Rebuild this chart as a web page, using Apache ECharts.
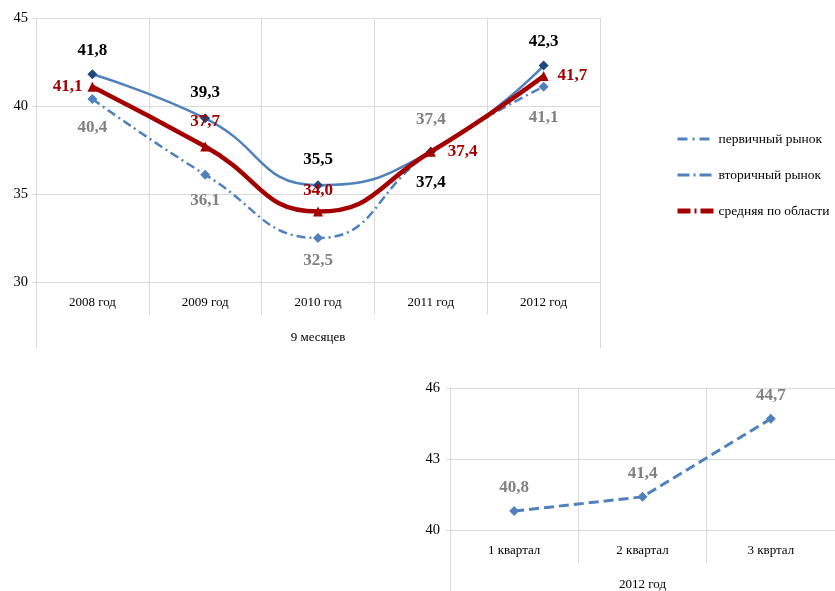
<!DOCTYPE html>
<html><head><meta charset="utf-8">
<script src="https://cdn.jsdelivr.net/npm/echarts@6/dist/echarts.min.js"></script>
<style>html,body{margin:0;padding:0;background:#fff}#c{width:835px;height:591px}</style>
</head><body><div id="c"></div>
<script>
const years = ['2008 год','2009 год','2010 год','2011 год','2012 год'];
const periodLabel = ['9 месяцев'];
const primary = [40.4, 36.1, 32.5, 37.4, 41.1];
const secondary = [41.8, 39.3, 35.5, 37.4, 42.3];
const average = [41.1, 37.7, 34.0, 37.4, 41.7];
const quarters = ['1 квартал','2 квартал','3 квртал'];
const yearLabel = ['2012 год'];
const quarterly = [40.8, 41.4, 44.7];

// label layout (style, not data)
const primaryPos = [['bottom',15],['bottom',12],['bottom',9],['top',19],['bottom',17]];
const secondaryPos = [['top',10],['top',12],['top',12],['bottom',17],['top',10]];
const averagePos = [['left',5],['top',11],['top',7],['right',12],['right',9]];

const F = 'Liberation Serif';
const grid = '#d9d9d9';
function fmt(p){ return p.value.toFixed(1).replace('.',','); }
function withPos(vals, pos, color){
  return vals.map((v,i)=>({value:v,label:{show:true,position:pos[i][0],distance:pos[i][1],
    fontFamily:F,fontWeight:'bold',fontSize:17,color:color}}));
}

const chart = echarts.init(document.getElementById('c'));
chart.setOption({
  animation:false,
  grid:[
    {left:36,right:235,top:18,bottom:309},
    {left:450,right:-5,top:388,bottom:61}
  ],
  legend:{
    orient:'vertical', left:670, top:127, itemGap:22, itemWidth:36, itemHeight:10,
    textStyle:{fontFamily:F,fontSize:13.5,color:'#000'},
    data:[
      {name:'первичный рынок', itemStyle:{color:'transparent'}, lineStyle:{width:3,type:[10,5,2,5]}},
      {name:'вторичный рынок', itemStyle:{color:'transparent'}, lineStyle:{width:3,type:[12,4,2,4]}},
      {name:'средняя по области', itemStyle:{color:'transparent'}, lineStyle:{width:5,type:[13,4,2,4]}}
    ]
  },
  xAxis:[
    {type:'category',gridIndex:0,data:years,boundaryGap:true,
      axisLine:{lineStyle:{color:grid}},axisTick:{show:true,length:33,lineStyle:{color:grid}},
      axisLabel:{margin:14,fontFamily:F,fontSize:13,color:'#000'},
      splitLine:{show:true,lineStyle:{color:grid}}},
    {type:'category',gridIndex:0,data:periodLabel,position:'bottom',boundaryGap:true,
      axisLine:{show:false},axisTick:{show:true,length:66,lineStyle:{color:grid}},
      axisLabel:{margin:49,fontFamily:F,fontSize:13,color:'#000'}},
    {type:'category',gridIndex:1,data:quarters,boundaryGap:true,
      axisLine:{lineStyle:{color:grid}},axisTick:{show:true,length:33,lineStyle:{color:grid}},
      axisLabel:{margin:14,fontFamily:F,fontSize:13,color:'#000'},
      splitLine:{show:true,lineStyle:{color:grid}}},
    {type:'category',gridIndex:1,data:yearLabel,position:'bottom',boundaryGap:true,
      axisLine:{show:false},axisTick:{show:true,length:61,lineStyle:{color:grid}},
      axisLabel:{margin:48,fontFamily:F,fontSize:13,color:'#000'}}
  ],
  yAxis:[
    {type:'value',gridIndex:0,min:30,max:45,interval:5,
      axisLine:{show:true,lineStyle:{color:grid}},axisTick:{show:true,length:4,lineStyle:{color:grid}},
      axisLabel:{margin:8,fontFamily:F,fontSize:14.5,color:'#000'},
      splitLine:{lineStyle:{color:grid}}},
    {type:'value',gridIndex:1,min:40,max:46,interval:3,
      axisLine:{show:true,lineStyle:{color:grid}},axisTick:{show:true,length:4,lineStyle:{color:grid}},
      axisLabel:{margin:10,fontFamily:F,fontSize:14.5,color:'#000'},
      splitLine:{lineStyle:{color:grid}}}
  ],
  series:[
    {name:'первичный рынок',type:'line',xAxisIndex:0,yAxisIndex:0,smooth:true,
      data:withPos(primary,primaryPos,'#808080'),symbol:'diamond',symbolSize:10,
      lineStyle:{color:'#4f81bd',width:2.5,type:[9,4,2,4]},itemStyle:{color:'#4f81bd'},
      label:{show:true,formatter:fmt},z:2},
    {name:'вторичный рынок',type:'line',xAxisIndex:0,yAxisIndex:0,smooth:true,
      data:withPos(secondary,secondaryPos,'#000000'),symbol:'diamond',symbolSize:10,
      lineStyle:{color:'#4f81bd',width:2.5},itemStyle:{color:'#1f497d'},
      label:{show:true,formatter:fmt},z:3},
    {name:'средняя по области',type:'line',xAxisIndex:0,yAxisIndex:0,smooth:true,
      data:withPos(average,averagePos,'#a50000'),symbol:'triangle',symbolSize:10,
      lineStyle:{color:'#a50000',width:4.5},itemStyle:{color:'#a50000'},
      label:{show:true,formatter:fmt},z:4},
    {name:'2012',type:'line',xAxisIndex:2,yAxisIndex:1,
      data:quarterly,symbol:'diamond',symbolSize:10,
      lineStyle:{color:'#4f81bd',width:3,type:[10,5]},itemStyle:{color:'#4f81bd'},
      label:{show:true,position:'top',distance:10,formatter:fmt,fontFamily:F,fontWeight:'bold',fontSize:17,color:'#808080'}}
  ]
});
</script></body></html>
